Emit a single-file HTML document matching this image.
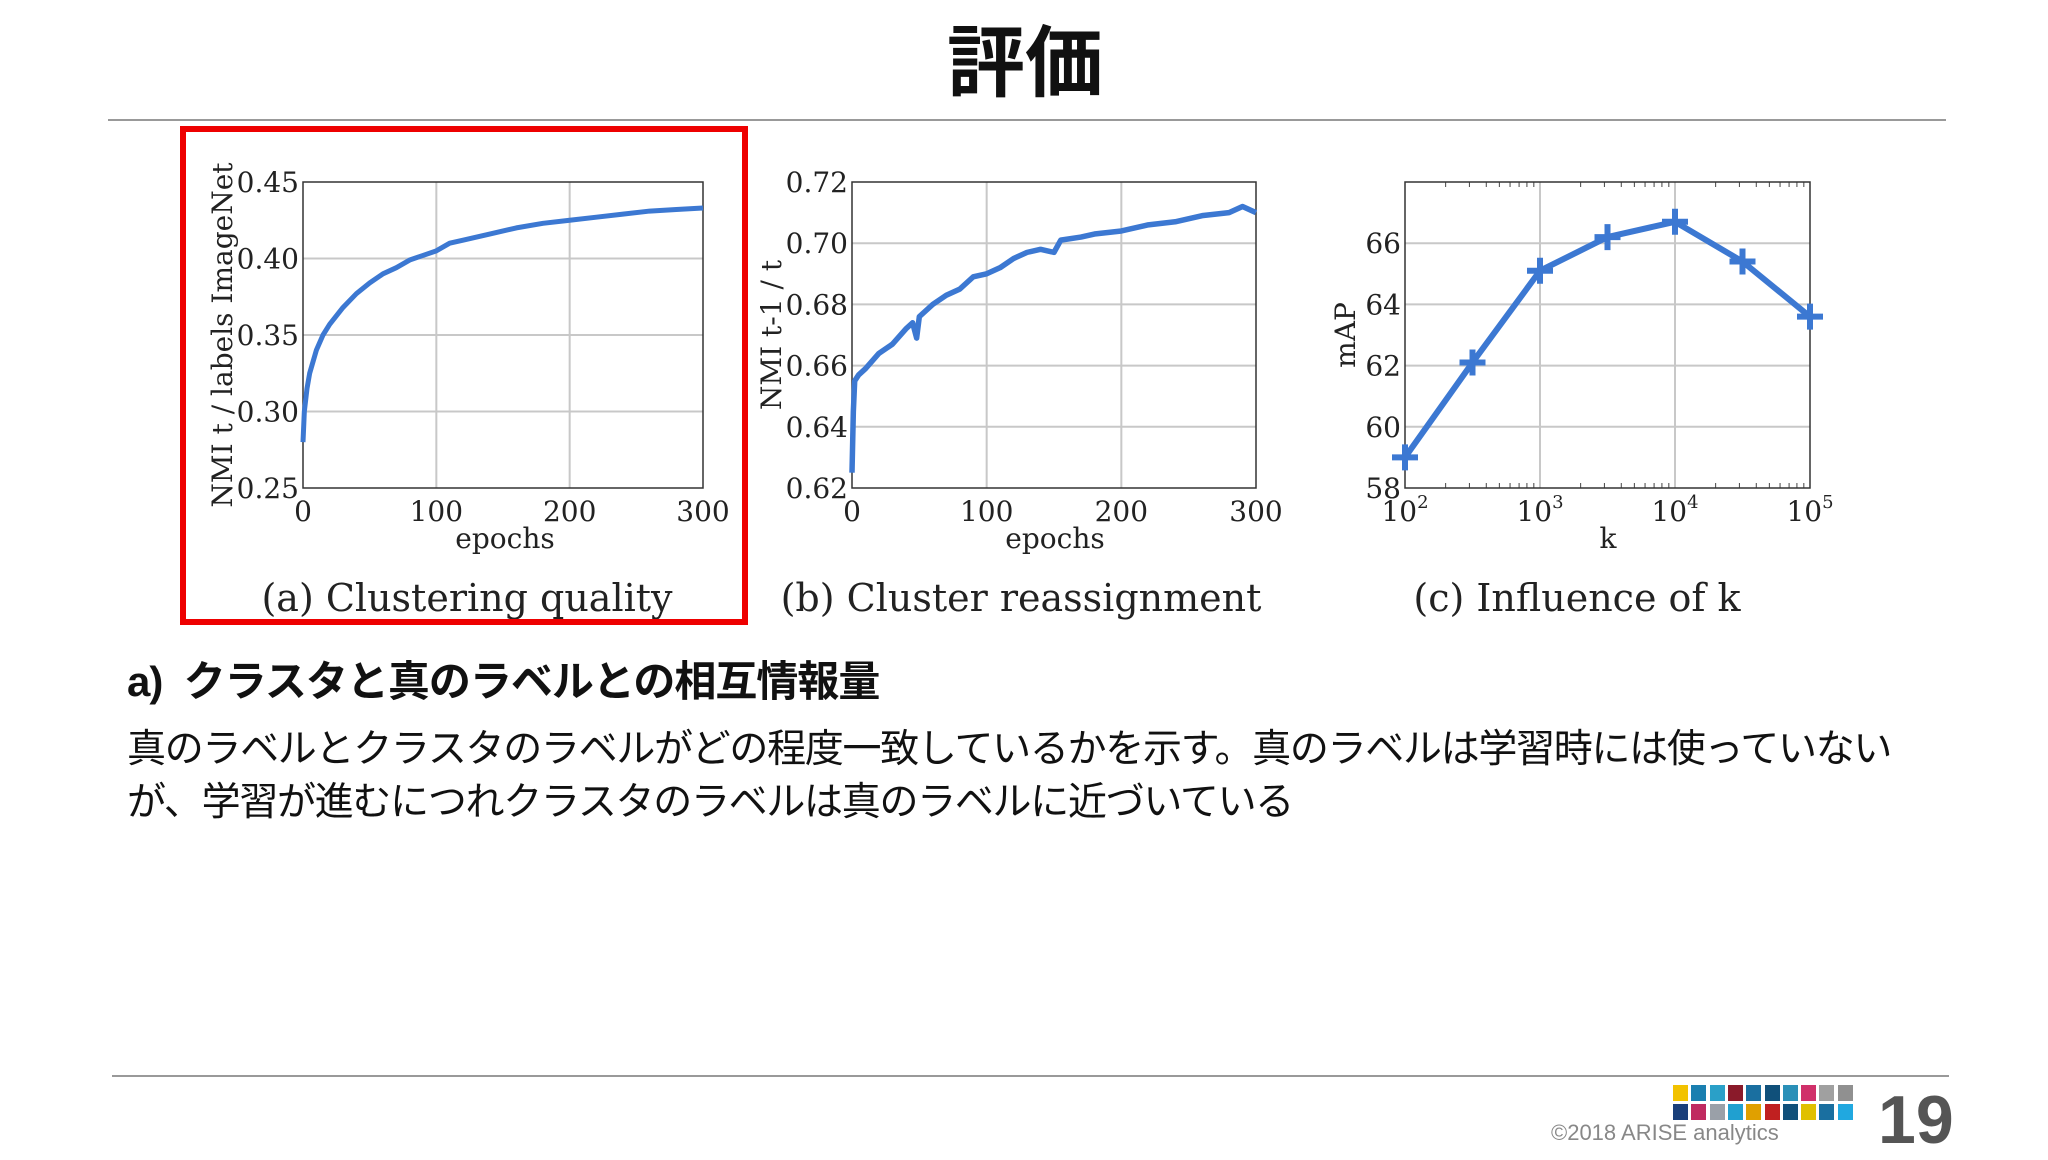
<!DOCTYPE html>
<html><head><meta charset="utf-8">
<style>
html,body{margin:0;padding:0;background:#fff;}
body{width:2048px;height:1152px;position:relative;overflow:hidden;font-family:"Liberation Sans","Noto Sans CJK JP",sans-serif;}
.abs{position:absolute;}
</style></head>
<body>
<div class="abs" style="left:0;width:2050px;top:18px;text-align:center;font-size:78px;font-weight:bold;color:#111;font-family:'Liberation Sans','Noto Sans CJK JP',sans-serif;line-height:90px;">評価</div>
<div class="abs" style="left:108px;top:119px;width:1838px;height:2px;background:#999;"></div>

<svg class="abs" style="left:0;top:0" width="2048" height="640" id="charts"></svg>

<div class="abs" style="left:127px;top:655px;font-size:42px;font-weight:bold;color:#111;letter-spacing:-1px;line-height:54px;white-space:nowrap;">a)&nbsp; クラスタと真のラベルとの相互情報量</div>
<div class="abs" style="left:127px;top:723px;width:1900px;font-size:39px;color:#111;line-height:53px;letter-spacing:-1.3px;white-space:nowrap;">真のラベルとクラスタのラベルがどの程度一致しているかを示す。真のラベルは学習時には使っていない<br>が、学習が進むにつれクラスタのラベルは真のラベルに近づいている</div>

<div class="abs" style="left:112px;top:1075px;width:1837px;height:2px;background:#999;"></div>
<div class="abs" id="logo" style="left:1673px;top:1085px;width:184px;height:36px;"></div>
<div class="abs" style="left:1551px;top:1120px;font-size:22px;color:#888;">©2018 ARISE analytics</div>
<div class="abs" style="left:1878px;top:1080px;font-size:68px;font-weight:bold;color:#555;line-height:80px;">19</div>

<script>
// ---- data ----
const epochsA = [0,1,3,5,10,15,20,30,40,50,60,70,80,90,100,110,120,140,160,180,200,220,240,260,280,300];
const nmiA = [0.28,0.30,0.315,0.325,0.34,0.35,0.357,0.368,0.377,0.384,0.39,0.394,0.399,0.402,0.405,0.41,0.412,0.416,0.42,0.423,0.425,0.427,0.429,0.431,0.432,0.433];
const epochsB = [0,1,2,5,10,20,30,40,45,48,50,60,70,80,90,100,110,120,130,140,150,155,170,180,200,220,240,260,280,290,300];
const nmiB = [0.625,0.645,0.655,0.657,0.659,0.664,0.667,0.672,0.674,0.669,0.676,0.68,0.683,0.685,0.689,0.690,0.692,0.695,0.697,0.698,0.697,0.701,0.702,0.703,0.704,0.706,0.707,0.709,0.710,0.712,0.710];
const kExp = [2,2.5,3,3.5,4,4.5,5];
const mapVals = [59.0,62.1,65.1,66.2,66.7,65.4,63.6];
const ticksA = ["0.25","0.30","0.35","0.40","0.45"];
const ticksB = ["0.62","0.64","0.66","0.68","0.70","0.72"];
const ticksC = ["58","60","62","64","66"];
const ticksX = ["0","100","200","300"];
const ticksXC = ["2","3","4","5"];

const NS="http://www.w3.org/2000/svg";
const svg=document.getElementById('charts');
function mk(tag,attrs,parent){const e=document.createElementNS(NS,tag);for(const k in attrs)e.setAttribute(k,attrs[k]);(parent||svg).appendChild(e);return e;}
const BLUE="#3c78d2", TOP=182, BOT=488;
const serif='"DejaVu Serif","Liberation Serif",serif';

function frame(name,L,R,yMin,yMax,yTicks,xMin,xMax,xTicks,isLog){
  const g=mk('g',{});
  
  
  const sx=v=>L+(v-xMin)/(xMax-xMin)*(R-L);
  const sy=v=>BOT-(v-yMin)/(yMax-yMin)*(BOT-TOP);
  yTicks.forEach(t=>{const v=parseFloat(t),y=sy(v);
    if(v>yMin&&v<yMax){const l=mk('line',{x1:L,x2:R,y1:y,y2:y,stroke:'#c8c8c8','stroke-width':2},g);}
    const tx=mk('text',{x:L-4,y:y+10,'text-anchor':'end','font-size':28,'font-family':serif,fill:'#222'},g);tx.textContent=t;
    });
  xTicks.forEach(t=>{const v=parseFloat(t),x=sx(v);
    if(v>xMin&&v<xMax){const l=mk('line',{x1:x,x2:x,y1:TOP,y2:BOT,stroke:'#c8c8c8','stroke-width':2},g);}
    const tx=mk('text',{x:x,y:BOT+33,'text-anchor':'middle','font-size':28,'font-family':serif,fill:'#222'},g);
    if(isLog){tx.textContent='10';const s=mk('tspan',{dy:-13,'font-size':18},tx);s.textContent=t;}else tx.textContent=t;
    });
  if(isLog){for(let d=xMin;d<xMax;d++)for(let m=2;m<10;m++){const x=sx(d+Math.log10(m));mk('line',{x1:x,x2:x,y1:BOT,y2:BOT-5,stroke:'#444','stroke-width':1},g);mk('line',{x1:x,x2:x,y1:TOP,y2:TOP+5,stroke:'#444','stroke-width':1},g);}}
  const r=mk('rect',{x:L,y:TOP,width:R-L,height:BOT-TOP,fill:'none',stroke:'#333','stroke-width':1.5},g);
  
  return {sx,sy,g};
}
function text(name,x,y,s,size,rot){const t=mk('text',{x:x,y:y,'text-anchor':'middle','font-size':size,'font-family':serif,fill:'#222'});
  if(rot)t.setAttribute('transform','rotate(-90 '+x+' '+y+')');t.textContent=s;
  return t;}

// chart a
const A=frame('chart-a',303,703,0.25,0.45,ticksA,0,300,ticksX,false);
const pa=mk('polyline',{points:epochsA.map((e,i)=>A.sx(e)+','+A.sy(nmiA[i])).join(' '),fill:'none',stroke:BLUE,'stroke-width':5,'stroke-linejoin':'round'},A.g);

text('x-axis-title-a',505,548,'epochs',28);
text('y-axis-title-a',232,335,'NMI t / labels ImageNet',28,true);
text('caption-a',467,611,'(a) Clustering quality',38);

// chart b
const B=frame('chart-b',852,1256,0.62,0.72,ticksB,0,300,ticksX,false);
const pb=mk('polyline',{points:epochsB.map((e,i)=>B.sx(e)+','+B.sy(nmiB[i])).join(' '),fill:'none',stroke:BLUE,'stroke-width':5.5,'stroke-linejoin':'round'},B.g);

text('x-axis-title-b',1055,548,'epochs',28);
text('y-axis-title-b',781,335,'NMI t-1 / t',28,true);
text('caption-b',1021,611,'(b) Cluster reassignment',38);

// chart c
const C=frame('chart-c',1405,1810,58,68,ticksC,2,5,ticksXC,true);
const pc=mk('polyline',{points:kExp.map((e,i)=>C.sx(e)+','+C.sy(mapVals[i])).join(' '),fill:'none',stroke:BLUE,'stroke-width':6,'stroke-linejoin':'round'},C.g);

kExp.forEach((e,i)=>{const x=C.sx(e),y=C.sy(mapVals[i]);
  const p=mk('path',{d:`M${x-13},${y}H${x+13}M${x},${y-13}V${y+13}`,stroke:BLUE,'stroke-width':6},C.g);
  });
text('x-axis-title-c',1608,548,'k',28);
text('y-axis-title-c',1355,335,'mAP',28,true);
text('caption-c',1577,611,'(c) Influence of k',38);

// highlight box
const hb=mk('rect',{x:183,y:129,width:562,height:493,fill:'none',stroke:'#ee0000','stroke-width':6});


// logo blocks
const logoRow1=["#f2c200","#1a7fb0","#2aa0c8","#8a1a2a","#1a6fa0","#10507a","#2a90b8","#d0306a","#a0a0a0","#909090"];
const logoRow2=["#1a3f7a","#c02a60","#9aa0a8","#20a0d0","#e0a000","#c02020","#10507a","#e0c000","#1a6fa0","#20a8e0"];
const logo=document.getElementById('logo');
[logoRow1,logoRow2].forEach((row,r)=>row.forEach((c,i)=>{const d=document.createElement('div');
  
  
  d.style.cssText=`position:absolute;left:${i*18.3}px;top:${r*19}px;width:15px;height:16px;background:${c};`;logo.appendChild(d);}));
</script>
</body></html>
